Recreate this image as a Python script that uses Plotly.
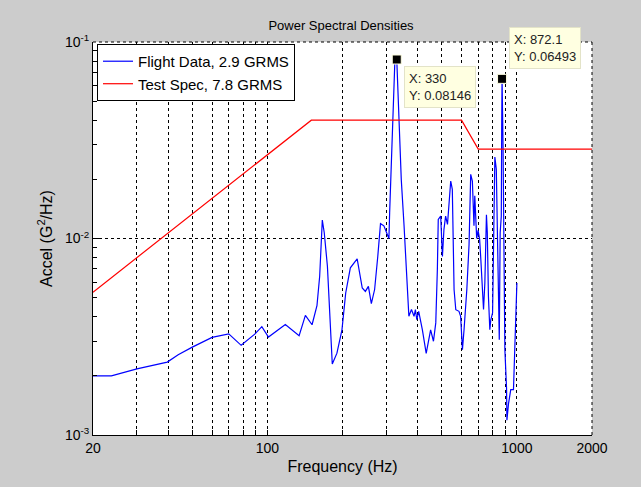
import numpy as np
import plotly.graph_objects as go

# ---- data ----
flight_freq = [20, 23.7, 30, 39.7, 43.9, 50, 60, 70, 78.5, 89, 95, 101, 118, 134, 142, 151, 158, 162,
               166, 169, 174, 178, 182, 190, 199, 206, 215, 229, 240, 247, 254, 261, 269, 277, 284,
               293, 300, 307, 309, 314, 320, 324, 330, 335, 339, 344, 353, 361, 369, 378, 387, 392,
               397, 404, 418, 433, 444, 451, 463, 473, 480, 484, 495, 503, 510, 518, 527, 534, 543,
               551, 560, 569, 586, 595, 605, 614, 630, 643, 649, 653, 663, 673, 678, 690, 699, 709,
               717, 735, 744, 755, 761, 769, 779, 786, 799, 806, 816, 827, 838, 850, 857, 866, 869,
               872.1, 880, 895, 909, 912, 926, 937, 945, 969, 981, 993, 1000]
flight_psd = [0.0020, 0.0020, 0.00217, 0.00235, 0.00256, 0.0028, 0.00314, 0.00327, 0.00286, 0.00326,
              0.00356, 0.00315, 0.00365, 0.0032, 0.00406, 0.00364, 0.00455, 0.00642, 0.0124, 0.0107,
              0.00723, 0.00371, 0.0023, 0.00261, 0.00343, 0.00528, 0.00709, 0.00788, 0.0056, 0.00538,
              0.00571, 0.00466, 0.0055, 0.00812, 0.0119, 0.0116, 0.0107, 0.0100, 0.0135, 0.0234,
              0.0473, 0.0773, 0.08146, 0.047, 0.0285, 0.020, 0.0116, 0.00669, 0.00402, 0.00435,
              0.00402, 0.00435, 0.00386, 0.00426, 0.00343, 0.0026, 0.00305, 0.00343, 0.0030, 0.00372,
              0.00695, 0.0125, 0.013, 0.0081, 0.0111, 0.013, 0.0118, 0.0146, 0.0196, 0.0178, 0.0055,
              0.00434, 0.00426, 0.00402, 0.00272, 0.00343, 0.0055, 0.0093, 0.0135, 0.0212, 0.0196,
              0.0116, 0.0165, 0.0100, 0.011, 0.0099, 0.0078, 0.00435, 0.00594, 0.0132, 0.0107,
              0.00508, 0.00343, 0.00386, 0.00418, 0.0088, 0.026, 0.0225, 0.0088, 0.00305, 0.0107,
              0.013, 0.035, 0.06493, 0.030, 0.00272, 0.00173, 0.00119, 0.00145, 0.00157, 0.0017,
              0.0017, 0.00272, 0.0055, 0.00594]

spec_freq = [20, 150, 600, 700, 2000]
spec_psd = [0.00533, 0.04, 0.04, 0.0285, 0.0285]

tip_freq = [330, 872.1]
tip_psd = [0.08146, 0.06493]
tip_labels = ["X: 330<br>Y: 0.08146", "X: 872.1<br>Y: 0.06493"]

x_tickvals = [20, 100, 1000, 2000]
x_ticktext = ["20", "100", "1000", "2000"]
x_minor = [30, 40, 50, 60, 70, 80, 90, 200, 300, 400, 500, 600, 700, 800, 900]
y_tickvals = [0.001, 0.01, 0.1]
y_ticktext = ["10<sup>-3</sup>", "10<sup>-2</sup>", "10<sup>-1</sup>"]
y_minor = [m * 10 ** e for e in (-3, -2) for m in range(2, 10)]

FONT = "Liberation Sans, Arial, Helvetica, sans-serif"
X_RANGE = [np.log10(20), np.log10(2000)]
Y_RANGE = [-3, -1]
GRID = dict(color="black", dash="3px,3px")

fig = go.Figure()
fig.add_trace(go.Scatter(x=flight_freq, y=flight_psd, mode="lines",
                         line=dict(color="#0000ff", width=1.2),
                         name="Flight Data, 2.9 GRMS"))
fig.add_trace(go.Scatter(x=spec_freq, y=spec_psd, mode="lines",
                         line=dict(color="#ff0000", width=1.2),
                         name="Test Spec, 7.8 GRMS"))
fig.add_trace(go.Scatter(x=tip_freq, y=tip_psd, mode="markers", showlegend=False,
                         marker=dict(symbol="square", size=9, color="black",
                                     line=dict(color="#ffffe1", width=1)),
                         cliponaxis=False))

# dashed top / right frame (gridlines at 10^-1 and 2000 Hz)
fig.add_shape(type="line", xref="paper", yref="paper", x0=0, x1=1, y0=1, y1=1,
              line=dict(color="black", width=1, dash="3px,3px"), layer="above")
fig.add_shape(type="line", xref="paper", yref="paper", x0=1, x1=1, y0=0, y1=1,
              line=dict(color="black", width=1, dash="3px,3px"), layer="above")

# data tips (annotation coords on log axes are log10 values)
tip_anchor = [("top", -6), ("bottom", 10)]
for f, v, lab, (ya, ys) in zip(tip_freq, tip_psd, tip_labels, tip_anchor):
    fig.add_annotation(x=np.log10(f), y=np.log10(v), xref="x", yref="y", text=lab,
                       showarrow=False, xanchor="left", yanchor=ya, xshift=7, yshift=ys,
                       align="left", bgcolor="#ffffe1", bordercolor="#e3e3c8", borderwidth=1,
                       borderpad=4, font=dict(family=FONT, size=13, color="#222"))

fig.update_layout(
    width=641, height=487,
    margin=dict(l=93, r=49, t=42, b=52),
    paper_bgcolor="#cccccc", plot_bgcolor="white",
    font=dict(family=FONT, size=13, color="black"),
    title=dict(text="Power Spectral Densities", x=0.532, xanchor="center",
               y=1 - 25 / 487, yanchor="middle", font=dict(size=13)),
    showlegend=True,
    legend=dict(x=0.008, y=0.995, xanchor="left", yanchor="top", bgcolor="white",
                bordercolor="black", borderwidth=1, font=dict(size=15),
                tracegroupgap=0),
    xaxis=dict(type="log", range=X_RANGE, tickmode="array",
               tickvals=x_tickvals, ticktext=x_ticktext, ticks="inside", ticklen=5,
               tickcolor="black", showgrid=True, gridcolor=GRID["color"], griddash=GRID["dash"],
               gridwidth=1, showline=True, linecolor="black", linewidth=1, mirror=False,
               zeroline=False, title=dict(text="Frequency (Hz)", standoff=6),
               tickfont=dict(size=14),
               minor=dict(tickmode="array", tickvals=x_minor, ticks="inside", ticklen=5,
                          tickcolor="black", showgrid=True, gridcolor=GRID["color"],
                          griddash=GRID["dash"], gridwidth=1)),
    yaxis=dict(type="log", range=Y_RANGE, tickmode="array",
               tickvals=y_tickvals, ticktext=y_ticktext, ticks="inside", ticklen=6,
               tickcolor="black", showgrid=True, gridcolor=GRID["color"], griddash=GRID["dash"],
               gridwidth=1, showline=True, linecolor="black", linewidth=1, mirror=False,
               zeroline=False, title=dict(text="Accel (G<sup>2</sup>/Hz)", standoff=8),
               tickfont=dict(size=14),
               minor=dict(tickmode="array", tickvals=y_minor, ticks="inside", ticklen=4,
                          tickcolor="black", showgrid=False)),
)

fig.write_html("out.html")
